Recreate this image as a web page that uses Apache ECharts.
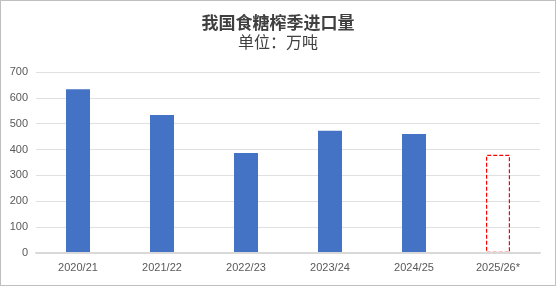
<!DOCTYPE html>
<html><head><meta charset="utf-8">
<script src="https://cdn.jsdelivr.net/npm/echarts@6/dist/echarts.min.js"></script>
<style>html,body{margin:0;padding:0;background:#fff}#c{width:556px;height:286px;box-sizing:border-box;border:1px solid #bfbfbf}</style>
</head><body><div id="c"></div>
<script>
const categories = ['2020/21','2021/22','2022/23','2023/24','2024/25','2025/26*'];
const actualValues = [633, 534, 387, 473, 460, '-'];
const forecastValues = ['-', '-', '-', '-', '-', 380];
const yTicks = [0,100,200,300,400,500,600,700];
const titleText = '我国食糖榨季进口量';
const subtitleText = '单位：万吨';

const chart = echarts.init(document.getElementById('c'), null, {renderer:'canvas'});
chart.setOption({
  animation:false,
  title:{text:titleText, subtext:subtitleText, left:'center', top:8, itemGap:3,
    textStyle:{fontFamily:'Noto Sans CJK SC', fontSize:17, fontWeight:'bold', color:'#404040'},
    subtextStyle:{fontFamily:'Noto Sans CJK SC', fontSize:16, color:'#404040'}},
  grid:{left:35, right:15, top:71, bottom:32, containLabel:false},
  xAxis:{type:'category', data:categories, z:5,
    axisLine:{lineStyle:{color:'#d9d9d9', width:2}}, axisTick:{show:false},
    axisLabel:{color:'#595959', fontSize:11, fontFamily:'Liberation Sans', margin:9}},
  yAxis:{type:'value', min:yTicks[0], max:yTicks[yTicks.length-1], interval:100,
    axisLine:{show:false}, axisTick:{show:false},
    splitLine:{lineStyle:{color:'#e0e0e0'}},
    axisLabel:{color:'#595959', fontSize:11, fontFamily:'Liberation Sans', margin:8}},
  series:[
    {type:'bar', data:actualValues, barWidth:24, barGap:'-100%',
     itemStyle:{color:'#4472c4'}},
    {type:'bar', data:forecastValues, barWidth:24,
     itemStyle:{color:'rgba(255,255,255,0)', borderColor:'#ff0000', borderWidth:1.2, borderType:[4,2]}}
  ]
});
</script></body></html>
